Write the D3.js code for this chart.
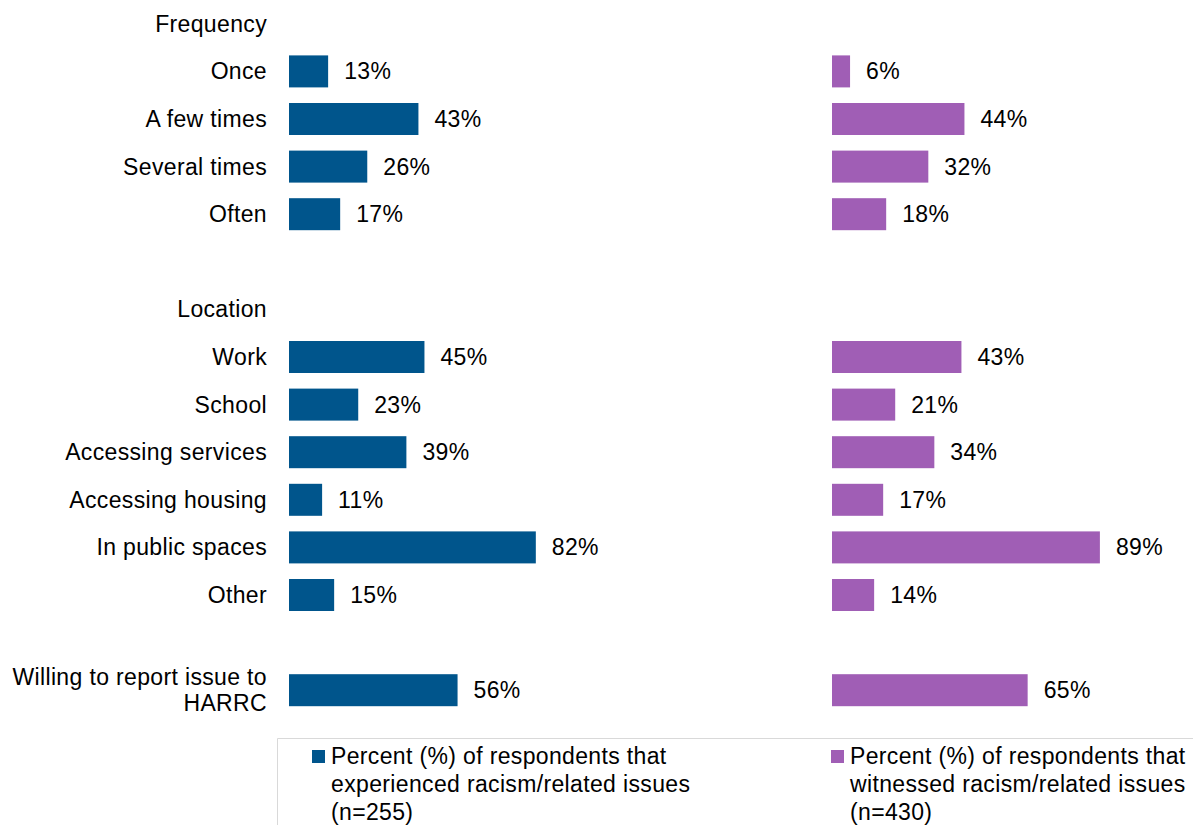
<!DOCTYPE html>
<html>
<head>
<meta charset="utf-8">
<script src="https://cdn.jsdelivr.net/npm/d3@7/dist/d3.min.js"></script>
<style>
  html, body { margin: 0; padding: 0; background: #fff; }
  svg { display: block; font-family: Arial, "Liberation Sans", sans-serif; letter-spacing: 0.35px; }
</style>
</head>
<body>
<svg id="chart" width="1193" height="825"></svg>
<script>
// Row labels, top to bottom; "" marks a spacer row, headers have no bars
const categories = [
  "Frequency", "Once", "A few times", "Several times", "Often", "",
  "Location", "Work", "School", "Accessing services", "Accessing housing",
  "In public spaces", "Other", "", "Willing to report issue to|HARRC"
];

// Percent of respondents who experienced racism/related issues (n=255)
const experienced = [null, 13, 43, 26, 17, null, null, 45, 23, 39, 11, 82, 15, null, 56];
// Percent of respondents who witnessed racism/related issues (n=430)
const witnessed   = [null, 6, 44, 32, 18, null, null, 43, 21, 34, 17, 89, 14, null, 65];

const seriesNames = [
  ["Percent (%) of respondents that", "experienced racism/related issues", "(n=255)"],
  ["Percent (%) of respondents that", "witnessed racism/related issues", "(n=430)"]
];
const colors = ["#00558c", "#a05eb5"];

const svg = d3.select("#chart");
const fontSize = 23;
const barH = 32;

const y = d3.scalePoint()
  .domain(d3.range(categories.length))
  .range([0, 714])
  .padding(0.5);

const xLeft = d3.scaleLinear().domain([0, 100]).range([289, 289 + 301]);
const xRight = d3.scaleLinear().domain([0, 100]).range([832, 832 + 301]);

// Category labels, right-aligned against the bars
const labels = svg.append("g")
  .attr("font-size", fontSize)
  .attr("fill", "#000")
  .attr("text-anchor", "end");

categories.forEach((c, i) => {
  if (!c) return;
  const lines = c.split("|");
  const t = labels.append("text").attr("x", 267);
  const lh = 26;
  lines.forEach((ln, k) => {
    t.append("tspan")
      .attr("x", 267)
      .attr("y", y(i) + (k - (lines.length - 1) / 2) * lh)
      .attr("dy", "0.35em")
      .text(ln);
  });
});

function drawSeries(values, x, color) {
  const rows = values.map((v, i) => ({ v, i })).filter(d => d.v != null);
  const g = svg.append("g");
  g.selectAll("rect").data(rows).join("rect")
    .attr("x", x(0))
    .attr("y", d => y(d.i) - barH / 2)
    .attr("width", d => x(d.v) - x(0))
    .attr("height", barH)
    .attr("fill", color);
  g.selectAll("text").data(rows).join("text")
    .attr("x", d => x(d.v) + 16)
    .attr("y", d => y(d.i))
    .attr("dy", "0.35em")
    .attr("font-size", fontSize)
    .attr("fill", "#000")
    .text(d => d.v + "%");
}
drawSeries(experienced, xLeft, colors[0]);
drawSeries(witnessed, xRight, colors[1]);

// Legend frame
const legend = svg.append("g");
legend.append("path")
  .attr("d", "M277.5,825 V738.5 H1193")
  .attr("fill", "none")
  .attr("stroke", "#d9d9d9")
  .attr("stroke-width", 1);

const legendX = [312, 831];
seriesNames.forEach((lines, s) => {
  legend.append("rect")
    .attr("x", legendX[s])
    .attr("y", 750)
    .attr("width", 13)
    .attr("height", 13)
    .attr("fill", colors[s]);
  const t = legend.append("text")
    .attr("font-size", fontSize)
    .attr("fill", "#000");
  lines.forEach((ln, k) => {
    t.append("tspan")
      .attr("x", legendX[s] + 19)
      .attr("y", 764 + k * 28)
      .text(ln);
  });
});
</script>
</body>
</html>
